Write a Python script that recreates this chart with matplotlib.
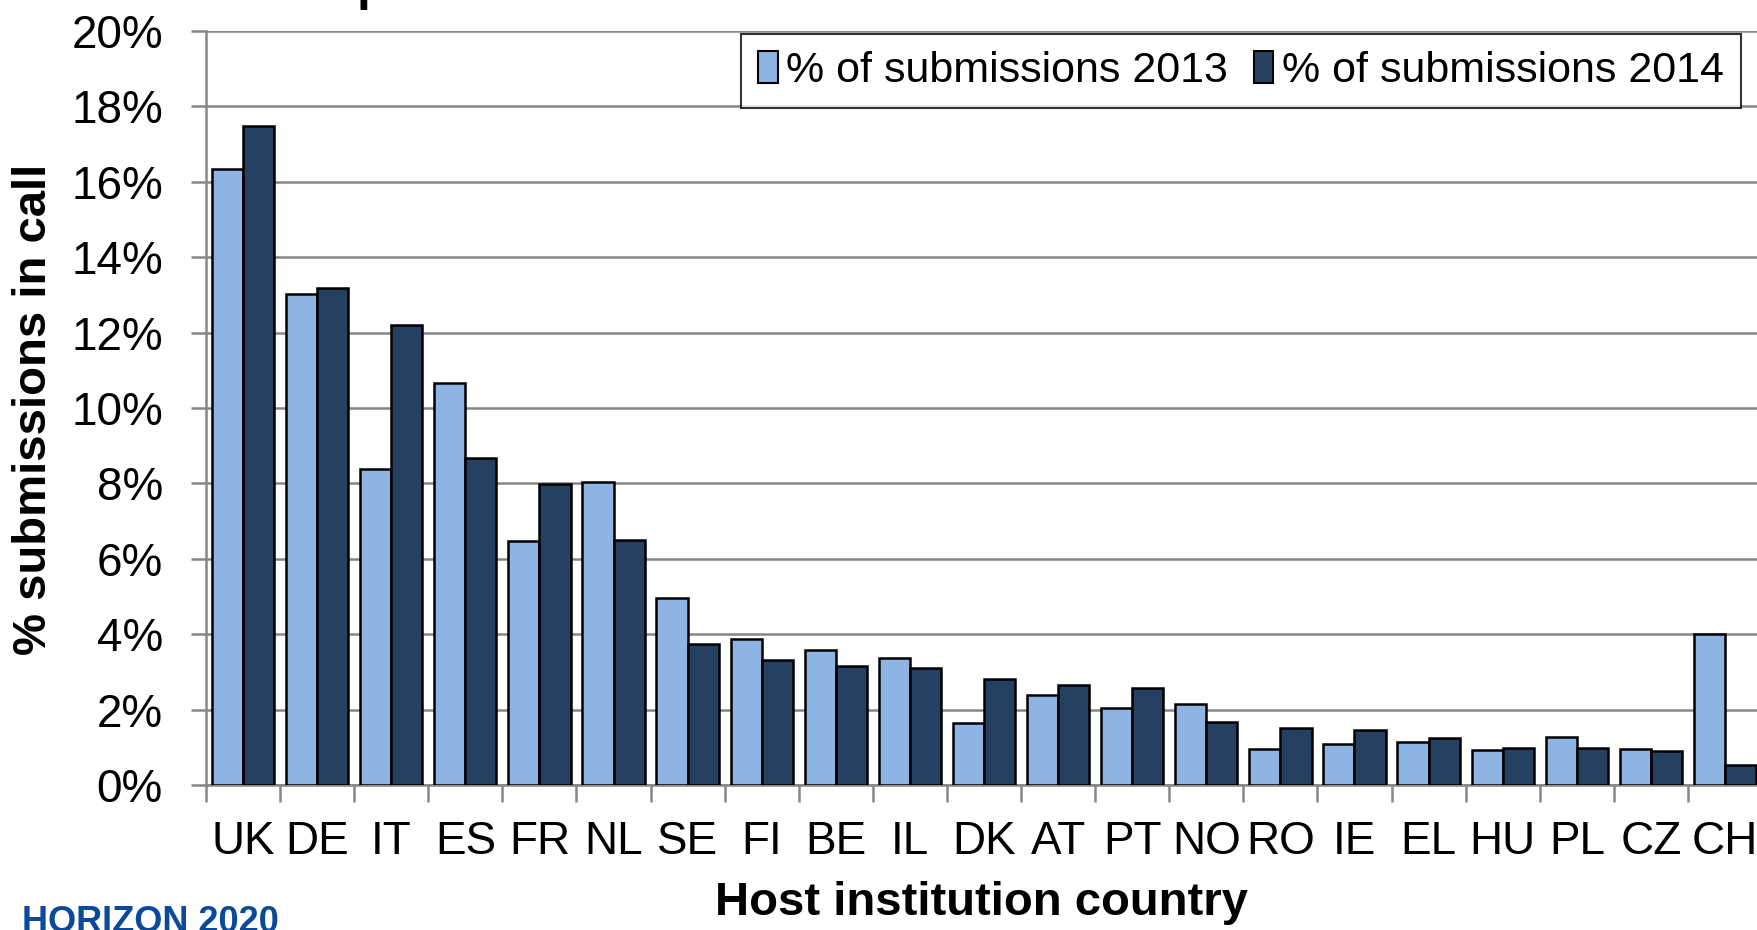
import matplotlib.pyplot as plt
import numpy as np

countries = ['UK', 'DE', 'IT', 'ES', 'FR', 'NL', 'SE', 'FI', 'BE', 'IL', 'DK',
             'AT', 'PT', 'NO', 'RO', 'IE', 'EL', 'HU', 'PL', 'CZ', 'CH']
share_2013 = [16.35, 13.02, 8.37, 10.66, 6.46, 8.04, 4.97, 3.87, 3.57, 3.37, 1.64,
              2.38, 2.03, 2.14, 0.95, 1.10, 1.13, 0.92, 1.28, 0.95, 4.00]
share_2014 = [17.49, 13.17, 12.21, 8.67, 7.98, 6.49, 3.75, 3.31, 3.16, 3.10, 2.80,
              2.65, 2.56, 1.67, 1.52, 1.46, 1.25, 0.98, 0.98, 0.89, 0.52]
yticks = [0, 2, 4, 6, 8, 10, 12, 14, 16, 18, 20]

plt.rcParams['font.family'] = ['Liberation Sans', 'DejaVu Sans']

fig = plt.figure(figsize=(17.58, 9.30), dpi=100)
W, H = 1758, 930
ax = fig.add_axes([206 / W, 145 / H, 1556 / W, 754 / H])

grey = '#868686'
x = np.arange(len(countries))
w = 0.42
ax.bar(x - w / 2, share_2013, w, color='#8EB4E3', edgecolor='black', linewidth=1.8,
       label='% of submissions 2013', zorder=3)
ax.bar(x + w / 2, share_2014, w, color='#254061', edgecolor='black', linewidth=1.8,
       label='% of submissions 2014', zorder=3)

ax.set_xlim(-0.5, len(countries) - 0.5)
ax.set_ylim(0, 20)
ax.set_yticks(yticks)
ax.set_yticklabels([f'{v}%' for v in yticks])
ax.yaxis.grid(True, color=grey, linewidth=1.8, zorder=0)
ax.set_axisbelow(True)

# category labels centred, tick marks on the boundaries
ax.set_xticks(x)
ax.set_xticklabels(countries)
ax.set_xticks(np.arange(-0.5, len(countries), 1), minor=True)
ax.tick_params(axis='x', which='major', length=0, labelsize=33, pad=25)
ax.tick_params(axis='x', which='minor', length=12, width=1.8, color=grey)
ax.tick_params(axis='y', length=11, width=1.8, color=grey, labelsize=33, pad=20)

for s in ['top', 'right']:
    ax.spines[s].set_visible(False)
for s in ['left', 'bottom']:
    ax.spines[s].set_color(grey)
    ax.spines[s].set_linewidth(1.8)

leg = ax.legend(loc='upper right', ncol=2, fontsize=31, frameon=True, fancybox=False,
                edgecolor='black', handlelength=0.45, handleheight=0.75,
                handletextpad=0.2, columnspacing=0.6, borderpad=0.4,
                borderaxespad=0,
                bbox_to_anchor=(1741 / W, 1 - 34 / H), bbox_transform=fig.transFigure)
leg.get_frame().set_linewidth(1.5)
for p in leg.get_patches():
    p.set_linewidth(1.5)

fig.text(34 / W, 1 - 409 / H, '% submissions in call', rotation=90, fontsize=34,
         fontweight='bold', ha='center', va='center')
fig.text(981 / W, 1 - 903 / H, 'Host institution country', fontsize=34,
         fontweight='bold', ha='center', va='center')

# cut-off title and logo text at the edges
fig.text(372 / W, 1.0, 'p', fontsize=36, fontweight='bold', ha='center', va='baseline')
fig.text(22 / W, -2 / H, 'HORIZON 2020', fontsize=26, fontweight='bold',
         color='#0B4A9B', ha='left', va='baseline')

fig.savefig('out.png', dpi=100)
